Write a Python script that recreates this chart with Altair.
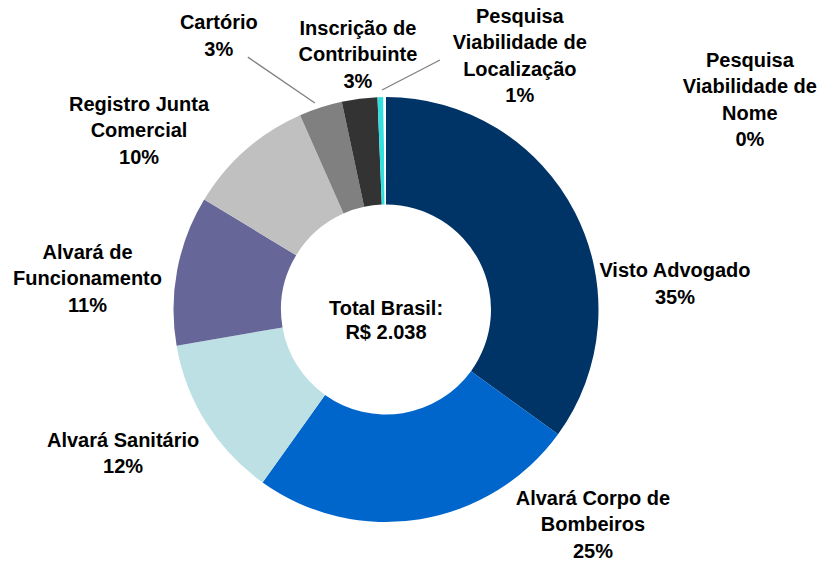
import math
import altair as alt
import pandas as pd

# ---- data ----
categories = [
    "Visto Advogado",
    "Alvará Corpo de Bombeiros",
    "Alvará Sanitário",
    "Alvará de Funcionamento",
    "Registro Junta Comercial",
    "Cartório",
    "Inscrição de Contribuinte",
    "Pesquisa Viabilidade de Localização",
    "Pesquisa Viabilidade de Nome",
]
values_rs = [713, 507, 253, 232, 198, 67, 55, 9, 4]
label_texts = [
    "Visto Advogado\n35%",
    "Alvará Corpo de\nBombeiros\n25%",
    "Alvará Sanitário\n12%",
    "Alvará de\nFuncionamento\n11%",
    "Registro Junta\nComercial\n10%",
    "Cartório\n3%",
    "Inscrição de\nContribuinte\n3%",
    "Pesquisa\nViabilidade de\nLocalização\n1%",
    "Pesquisa\nViabilidade de\nNome\n0%",
]
total_text = "Total Brasil:\nR$ 2.038"

# ---- styles / layout ----
colors = ["#003366", "#0066CC", "#BDE0E4", "#666699", "#C0C0C0",
          "#808080", "#333333", "#33E0E0", "#FFFFFF"]
CX, CY = 378, 301.5
OUTER_R, INNER_R = 212.5, 105
LINE_H = 26.5
# label block-centre positions (polar, clockwise from top, degrees / px)
label_angle = [85.1, 136.2, 241.2, 275.8, 305.8, 328.5, 353.7, 27.9, 60.1]
label_radius = [290, 299, 300, 300, 304.5, 320, 256, 286.0, 419.7]
# leader lines: (angle1, r1, angle2, r2)
leaders = [(331.3, 287.7, 341.0, 218.4), (358.96, 219.5, 12.2, 255.3)]


def polar(a, r):
    t = math.radians(a)
    return CX + r * math.sin(t), CY - r * math.cos(t)


df = pd.DataFrame({
    "idx": list(range(len(categories))),
    "category": categories,
    "value": values_rs,
    "label": label_texts,
})
pos = [polar(a, r) for a, r in zip(label_angle, label_radius)]
df["lx"] = [p[0] for p in pos]
# first line sits at y: shift so the whole block is centred
df["ly"] = [p[1] - (t.count("\n")) * LINE_H / 2 for p, t in zip(pos, label_texts)]

lines = []
for a1, r1, a2, r2 in leaders:
    x1, y1 = polar(a1, r1)
    x2, y2 = polar(a2, r2)
    lines.append({"x": x1, "y": y1, "x2": x2, "y2": y2})
lines_df = pd.DataFrame(lines)

FONT = "Liberation Sans"

arcs = alt.Chart(df).mark_arc(outerRadius=OUTER_R, innerRadius=INNER_R).encode(
    theta=alt.Theta("value:Q", stack=True),
    color=alt.Color("category:N", scale=alt.Scale(domain=categories, range=colors), legend=None),
    order=alt.Order("idx:Q"),
    x=alt.value(CX),
    y=alt.value(CY),
)

rules = alt.Chart(lines_df).mark_rule(color="#808080", strokeWidth=1.3).encode(
    x=alt.X("x:Q", scale=None, axis=None),
    y=alt.Y("y:Q", scale=None, axis=None),
    x2="x2:Q",
    y2="y2:Q",
)

texts = alt.Chart(df).mark_text(
    font=FONT, fontSize=20, fontWeight="bold", lineBreak="\n",
    align="center", baseline="middle", lineHeight=LINE_H, color="black",
).encode(
    x=alt.X("lx:Q", scale=None, axis=None),
    y=alt.Y("ly:Q", scale=None, axis=None),
    text="label:N",
)

center = alt.Chart(pd.DataFrame({"t": [total_text]})).mark_text(
    font=FONT, fontSize=20, fontWeight="bold", lineBreak="\n",
    align="center", baseline="middle", lineHeight=24, color="black",
).encode(
    x=alt.value(CX),
    y=alt.value(CY - 1),
    text="t:N",
)

chart = alt.layer(arcs, rules, texts, center).properties(
    width=809, height=553, padding=0, autosize="none"
).configure_view(stroke=None)

chart.save("out.html", embed_options={"renderer": "svg", "actions": False})
